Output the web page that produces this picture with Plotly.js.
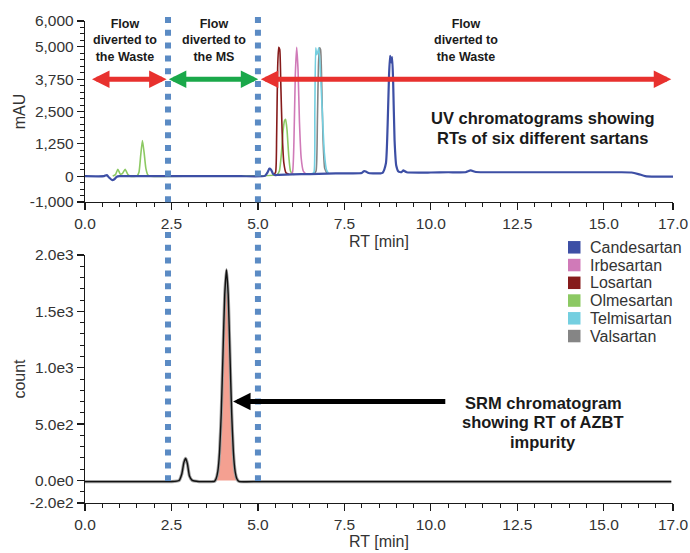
<!DOCTYPE html>
<html><head><meta charset="utf-8">
<script src="https://cdn.plot.ly/plotly-3.0.1.min.js"></script>
<style>html,body{margin:0;padding:0;background:#fff}#chart{width:690px;height:553px}</style>
</head><body><div id="chart"></div>
<script>
// ---------- DATA ----------
const seriesNames  = ['Candesartan','Irbesartan','Losartan','Olmesartan','Telmisartan','Valsartan'];
const seriesColors = ['#3d4fa5','#d07ab8','#861b1b','#8cc963','#74cfe0','#858585'];

const candesartanX = [0,0.55,0.63,0.7,0.78,0.85,0.92,1.0,1.5,2.5,3.5,4.5,5.2,5.28,5.33,5.38,5.44,5.5,5.6,6.0,6.5,7.0,7.5,8.0,8.06,8.12,8.2,8.6,8.7,8.75,8.79,8.82,8.85,8.88,8.91,8.95,9.0,9.06,9.15,9.2,9.3,10.0,10.5,11.0,11.15,11.3,12.0,13.0,14.0,15.0,15.5,15.8,16.0,16.2,16.5,17.0];
const candesartanY = [0,0,40,-60,-150,-120,-20,0,0,0,0,0,10,150,290,250,80,40,50,70,80,100,110,120,190,180,120,130,500,2000,3900,4650,4400,4600,3600,1400,400,180,150,220,150,140,150,150,220,160,150,150,150,150,150,140,80,0,-20,-20];

const irbesartanX = [5.95,6.0,6.04,6.08,6.12,6.16,6.2,6.25,6.31,6.38];
const irbesartanY = [70,150,1300,3900,4980,4100,2100,700,200,90];

const losartanX = [5.45,5.51,5.54,5.57,5.6,5.63,5.66,5.7,5.75,5.81,5.9];
const losartanY = [50,150,1500,4200,4980,4900,3600,1700,500,130,60];

const olmesartanX = [0.8,0.88,0.95,1.02,1.08,1.16,1.24,1.3,1.5,1.56,1.61,1.66,1.71,1.76,1.82,1.9,3.0,5.55,5.62,5.68,5.73,5.77,5.8,5.84,5.89,5.94,6.0,6.05];
const olmesartanY = [0,60,260,80,100,260,60,0,0,150,800,1380,900,300,40,0,0,60,200,900,1800,2150,2200,1800,800,200,80,70];

const telmisartanX = [6.56,6.62,6.645,6.67,6.7,6.73,6.76,6.8,6.86,6.92,6.98,7.04];
const telmisartanY = [80,150,2500,4960,4700,4800,4960,4200,2500,900,250,100];

const valsartanX = [6.62,6.68,6.72,6.75,6.78,6.81,6.84,6.88,6.93,7.0];
const valsartanY = [80,200,2200,4300,4960,4900,3800,1500,300,100];

const srmX = [0,1,2,2.5,2.72,2.8,2.86,2.91,2.96,3.02,3.1,3.3,3.6,3.74,3.79,3.84,3.89,3.94,3.99,4.04,4.09,4.14,4.19,4.24,4.29,4.34,4.39,4.45,5,6,8,10,12,14,16,16.95];
const srmY = [-10,-10,-10,-10,0,60,160,195,150,40,0,-10,-10,-8,15,80,250,600,1130,1650,1870,1650,1130,600,250,80,15,-8,-10,-10,-10,-10,-10,-10,-10,-10];
const azbtPeakRange = [3.76, 4.42];

const divertTimes = [2.4, 5.0];

const xTickVals = [0,2.5,5,7.5,10,12.5,15,17];
const xTickText = ['0.0','2.5','5.0','7.5','10.0','12.5','15.0','17.0'];
const uvTickVals = [-1000,0,1250,2500,3750,5000,6000];
const uvTickText = ['-1,000','0','1,250','2,500','3,750','5,000','6,000'];
const srmTickVals = [-200,0,500,1000,1500,2000];
const srmTickText = ['-2.0e2','0.0e0','5.0e2','1.0e3','1.5e3','2.0e3'];

const flowLabels = [
  {x: 1.16, lines: ['Flow','diverted to','the Waste']},
  {x: 3.72, lines: ['Flow','diverted to','the MS']},
  {x: 11.01, lines: ['Flow','diverted to','the Waste']}
];
const uvNote = ['UV chromatograms showing','RTs of six different sartans'];
const srmNote = ['SRM chromatogram','showing RT of AZBT','impurity'];

// ---------- BUILD ----------
const FONT = 'Liberation Sans, Arial, Helvetica, sans-serif';
const M = {l:85, r:17, t:21, b:50};
const W = 690, H = 553;
const PW = W - M.l - M.r, PH = H - M.t - M.b;
const pxX = px => (px - M.l) / PW;
const pxY = py => (H - M.b - py) / PH;

const uvSeries = {
  Candesartan: [candesartanX, candesartanY],
  Irbesartan: [irbesartanX, irbesartanY],
  Losartan: [losartanX, losartanY],
  Olmesartan: [olmesartanX, olmesartanY],
  Telmisartan: [telmisartanX, telmisartanY],
  Valsartan: [valsartanX, valsartanY]
};
const drawOrder = ['Olmesartan','Losartan','Irbesartan','Valsartan','Telmisartan','Candesartan'];
const traces = [];
drawOrder.forEach(name => {
  const i = seriesNames.indexOf(name);
  traces.push({
    type:'scatter', mode:'lines', x: uvSeries[name][0], y: uvSeries[name][1],
    xaxis:'x', yaxis:'y', name, showlegend:false, hoverinfo:'skip',
    line:{color: seriesColors[i], width: name === 'Candesartan' ? 2.2 : 1.6, shape:'spline', smoothing:0.5}
  });
});
// SRM filled peak
const fx = [], fy = [];
srmX.forEach((v,i) => { if (v >= azbtPeakRange[0] && v <= azbtPeakRange[1]) { fx.push(v); fy.push(Math.max(srmY[i], 0)); } });
traces.push({type:'scatter', mode:'lines', x: fx, y: fy, xaxis:'x2', yaxis:'y2', fill:'tozeroy',
  fillcolor:'#f4a091', line:{color:'#e0564a', width:0.8, shape:'spline', smoothing:0.5}, showlegend:false, hoverinfo:'skip'});
traces.push({type:'scatter', mode:'lines', x: srmX, y: srmY, xaxis:'x2', yaxis:'y2',
  line:{color:'#a0a0a0', width:3.2, shape:'spline', smoothing:0.5}, showlegend:false, hoverinfo:'skip'});
traces.push({type:'scatter', mode:'lines', x: srmX, y: srmY, xaxis:'x2', yaxis:'y2',
  line:{color:'#111', width:1.4, shape:'spline', smoothing:0.5}, showlegend:false, hoverinfo:'skip'});

const axisBase = {
  showline:true, linecolor:'#1a1a1a', linewidth:1.2, ticks:'outside', ticklen:7, tickwidth:1.2,
  tickcolor:'#1a1a1a', showgrid:false, zeroline:false, tickmode:'array',
  tickfont:{family:FONT, size:15.5, color:'#333'}
};
const minorT = (d, t0) => ({ticks:'outside', tickmode:'linear', tick0:t0, dtick:d, ticklen:4, tickwidth:1, tickcolor:'#1a1a1a', showgrid:false});

const shapes = [];
divertTimes.forEach(t => {
  shapes.push({type:'line', xref:'x', yref:'paper', x0:t, x1:t, y0:pxY(17), y1:pxY(206),
    line:{color:'#5b8bc4', width:6, dash:'6px,6.8px'}, layer:'above'});
  shapes.push({type:'line', xref:'x2', yref:'paper', x0:t, x1:t, y0:pxY(232), y1:pxY(481),
    line:{color:'#5b8bc4', width:6, dash:'6px,6.8px'}, layer:'above'});
});
// manual legend squares
seriesNames.forEach((n,i) => {
  const cy = 247.3 + i*17.75;
  shapes.push({type:'rect', xref:'paper', yref:'paper', x0:pxX(568), x1:pxX(580.5), y0:pxY(cy-6.25), y1:pxY(cy+6.25),
    fillcolor: seriesColors[i], line:{width:0}});
});

const annotations = [];
// arrows
const arrowCommon = {showarrow:true, text:'', font:{size:1}, arrowhead:2, startarrowhead:2, arrowsize:0.7, startarrowsize:0.7, arrowwidth:5, standoff:0, startstandoff:0};
annotations.push(Object.assign({}, arrowCommon, {xref:'x', yref:'y', axref:'x', ayref:'y', x:2.36, y:3750, ax:0.16, ay:3750, arrowside:'end+start', arrowcolor:'#e8312e'}));
annotations.push(Object.assign({}, arrowCommon, {xref:'x', yref:'y', axref:'x', ayref:'y', x:5.01, y:3750, ax:2.38, ay:3750, arrowside:'end+start', arrowcolor:'#1aa84a'}));
annotations.push(Object.assign({}, arrowCommon, {xref:'x', yref:'y', axref:'x', ayref:'y', x:16.95, y:3750, ax:5.04, ay:3750, arrowside:'end+start', arrowcolor:'#e8312e'}));
annotations.push(Object.assign({}, arrowCommon, {xref:'x2', yref:'y2', axref:'x2', ayref:'y2', x:4.28, y:700, ax:10.46, ay:700, arrowside:'end', arrowcolor:'#000'}));
// flow labels (one multi-line text each)
flowLabels.forEach(g => {
  annotations.push({xref:'x', yref:'paper', x:g.x, y:pxY(40.5), text:'<b>'+g.lines.join('<br>')+'</b>', showarrow:false,
    font:{family:FONT, size:12.5, color:'#1a1a1a'}, xanchor:'center', yanchor:'middle', align:'center'});
});
uvNote.forEach((ln, i) => {
  annotations.push({xref:'x', yref:'paper', x:13.25, y:pxY(118.3 + i*20), text:'<b>'+ln+'</b>', showarrow:false,
    font:{family:FONT, size:16.5, color:'#1a1a1a'}, xanchor:'center', yanchor:'middle'});
});
srmNote.forEach((ln, i) => {
  annotations.push({xref:'x2', yref:'paper', x:13.25, y:pxY(402.7 + i*19.5), text:'<b>'+ln+'</b>', showarrow:false,
    font:{family:FONT, size:16.5, color:'#1a1a1a'}, xanchor:'center', yanchor:'middle'});
});
// legend labels
seriesNames.forEach((n,i) => {
  annotations.push({xref:'paper', yref:'paper', x:pxX(588), y:pxY(247.3 + i*17.75), text:n, showarrow:false,
    font:{family:FONT, size:16, color:'#333'}, xanchor:'left', yanchor:'middle'});
});

const layout = {
  width:W, height:H, margin:M, paper_bgcolor:'#fff', plot_bgcolor:'#fff',
  font:{family:FONT, color:'#333'}, showlegend:false,
  xaxis: Object.assign({}, axisBase, {domain:[0,1], anchor:'y', range:[0,17], tickvals:xTickVals, ticktext:xTickText,
    minor:minorT(0.5,0), title:{text:'RT [min]', font:{family:FONT, size:16, color:'#333'}, standoff:5}}),
  yaxis: Object.assign({}, axisBase, {domain:[pxY(202),1], anchor:'x', range:[-1000,6000], tickvals:uvTickVals, ticktext:uvTickText,
    minor:minorT(250,0), title:{text:'mAU', font:{family:FONT, size:16, color:'#333'}, standoff:0}}),
  xaxis2: Object.assign({}, axisBase, {domain:[0,1], anchor:'y2', range:[0,17], tickvals:xTickVals, ticktext:xTickText,
    minor:minorT(0.5,0), title:{text:'RT [min]', font:{family:FONT, size:16, color:'#333'}, standoff:4}}),
  yaxis2: Object.assign({}, axisBase, {domain:[0,pxY(255)], anchor:'x2', range:[-200,2000], tickvals:srmTickVals, ticktext:srmTickText,
    minor:minorT(100,0), title:{text:'count', font:{family:FONT, size:16, color:'#333'}, standoff:0}}),
  shapes, annotations
};

Plotly.newPlot('chart', traces, layout, {displayModeBar:false, staticPlot:true});
</script>
</body></html>
